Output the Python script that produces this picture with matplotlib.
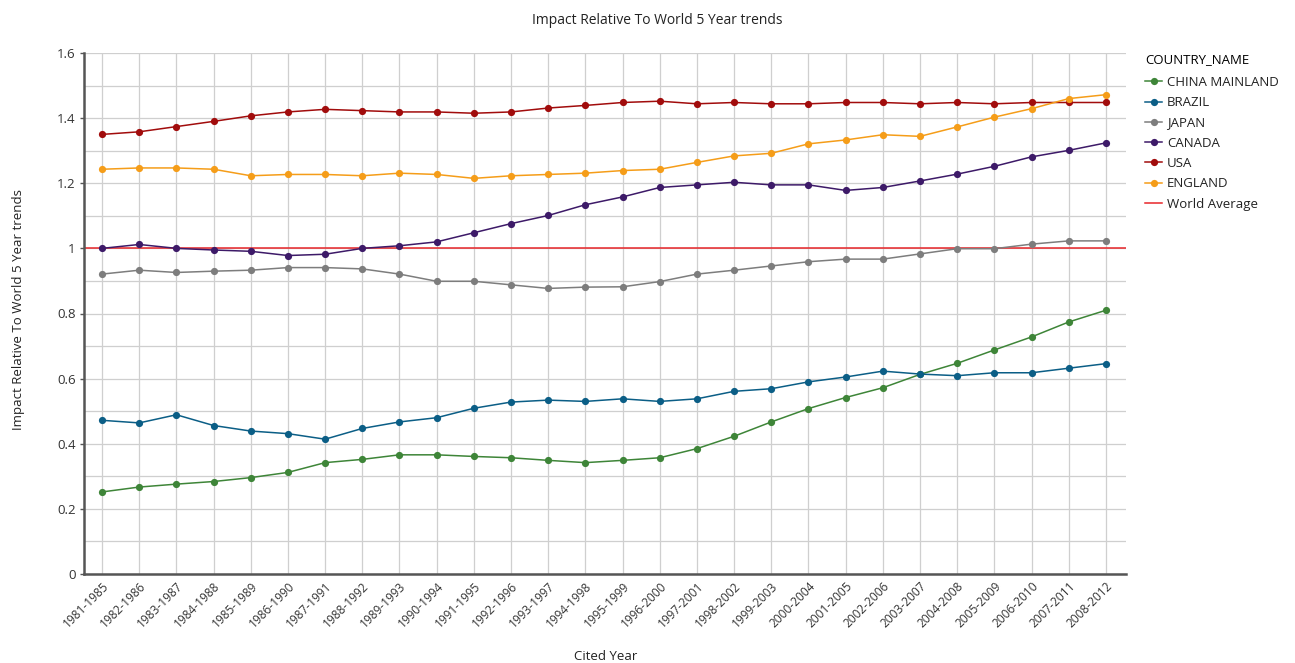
import matplotlib
matplotlib.use("Agg")
import matplotlib.pyplot as plt
from matplotlib.ticker import MultipleLocator

plt.rcParams['font.family'] = ['Open Sans', 'DejaVu Sans']

periods = ["1981-1985", "1982-1986", "1983-1987", "1984-1988", "1985-1989", "1986-1990",
           "1987-1991", "1988-1992", "1989-1993", "1990-1994", "1991-1995", "1992-1996",
           "1993-1997", "1994-1998", "1995-1999", "1996-2000", "1997-2001", "1998-2002",
           "1999-2003", "2000-2004", "2001-2005", "2002-2006", "2003-2007", "2004-2008",
           "2005-2009", "2006-2010", "2007-2011", "2008-2012"]

china = [0.252, 0.267, 0.276, 0.284, 0.296, 0.312, 0.342, 0.352, 0.366, 0.366, 0.361, 0.357,
         0.349, 0.342, 0.349, 0.357, 0.385, 0.423, 0.467, 0.508, 0.542, 0.572, 0.613, 0.647,
         0.688, 0.728, 0.774, 0.810]
brazil = [0.472, 0.464, 0.489, 0.456, 0.439, 0.431, 0.414, 0.447, 0.467, 0.480, 0.509, 0.528,
          0.534, 0.530, 0.538, 0.530, 0.538, 0.561, 0.569, 0.590, 0.605, 0.623, 0.614, 0.609,
          0.618, 0.618, 0.632, 0.646]
japan = [0.921, 0.933, 0.926, 0.930, 0.933, 0.941, 0.941, 0.937, 0.921, 0.899, 0.899, 0.888,
         0.877, 0.881, 0.882, 0.898, 0.921, 0.933, 0.946, 0.959, 0.967, 0.967, 0.983, 0.999,
         0.999, 1.013, 1.023, 1.023]
canada = [1.000, 1.012, 1.000, 0.995, 0.991, 0.978, 0.982, 1.000, 1.008, 1.020, 1.048, 1.076,
          1.101, 1.134, 1.158, 1.187, 1.195, 1.203, 1.195, 1.195, 1.178, 1.187, 1.207, 1.228,
          1.252, 1.281, 1.301, 1.324]
usa = [1.350, 1.358, 1.374, 1.390, 1.407, 1.419, 1.427, 1.423, 1.419, 1.419, 1.415, 1.419,
       1.431, 1.439, 1.448, 1.452, 1.444, 1.448, 1.444, 1.444, 1.448, 1.448, 1.444, 1.448,
       1.444, 1.448, 1.448, 1.448]
england = [1.243, 1.247, 1.247, 1.243, 1.223, 1.227, 1.227, 1.223, 1.231, 1.227, 1.215, 1.223,
           1.227, 1.231, 1.239, 1.243, 1.264, 1.284, 1.292, 1.321, 1.333, 1.349, 1.344, 1.373,
           1.403, 1.429, 1.460, 1.472]
world_average = 1.0

series_names = ["CHINA MAINLAND", "BRAZIL", "JAPAN", "CANADA", "USA", "ENGLAND"]
series_values = [china, brazil, japan, canada, usa, england]
series_colors = ["#3e8538", "#0b5e86", "#7d7d7d", "#3d1a68", "#a10c0c", "#f59d19"]

fig = plt.figure(figsize=(12.95, 6.63), dpi=100)
ax = fig.add_axes([84/1295, 1-574/663, (1126-84)/1295, (574-53)/663])

x = list(range(len(periods)))
for name, vals, col in zip(series_names, series_values, series_colors):
    ax.plot(x, vals, color=col, lw=1.1, marker='o', markersize=5.2,
            markeredgewidth=0, label=name, zorder=3)
ax.axhline(world_average, color='#e8262a', lw=1.1, label='World Average', zorder=2)

ax.set_xlim(-0.485, 27.54)
ax.set_ylim(0, 1.6)
ax.set_xticks(x)
ax.set_xticklabels(periods, rotation=45, ha='right', rotation_mode='anchor', fontsize=8.6,
                   color='#333333')
ax.yaxis.set_minor_locator(MultipleLocator(0.1))
ax.set_yticks([0, 0.2, 0.4, 0.6, 0.8, 1.0, 1.2, 1.4, 1.6])
ax.set_yticklabels(["0", "0.2", "0.4", "0.6", "0.8", "1", "1.2", "1.4", "1.6"], fontsize=9.5,
                   color='#333333')
ax.grid(True, which='both', axis='y', color='#cfcfcf', lw=0.9, zorder=0)
ax.grid(True, which='major', axis='x', color='#cfcfcf', lw=0.9, zorder=0)
ax.tick_params(axis='y', which='major', length=3, width=1, color='#555555', pad=3)
ax.tick_params(axis='y', which='minor', length=0)
ax.tick_params(axis='x', length=0, pad=4)
for s in ['top', 'right']:
    ax.spines[s].set_visible(False)
for s in ['left', 'bottom']:
    ax.spines[s].set_color('#555555')
    ax.spines[s].set_linewidth(1.8)

fig.text(657/1295, 1-21/663, "Impact Relative To World 5 Year trends", ha='center', va='center',
         fontsize=10, color='#222222')
fig.text(606/1295, 1-657/663, "Cited Year", ha='center', va='center', fontsize=9.5,
         color='#222222')
fig.text(19/1295, 1-310/663, "Impact Relative To World 5 Year trends", ha='center', va='center',
         rotation=90, fontsize=9.5, color='#222222')

leg = fig.legend(loc='upper left', bbox_to_anchor=(1140/1295, 1-48/663), frameon=False,
                 title="COUNTRY_NAME", alignment='left', fontsize=9.5, title_fontsize=9.5,
                 handlelength=1.3, handletextpad=0.35, labelspacing=0.55, borderaxespad=0)
leg._legend_box.sep = 7
for t in leg.get_texts():
    t.set_color('#222222')

fig.savefig("out.png", dpi=100)
